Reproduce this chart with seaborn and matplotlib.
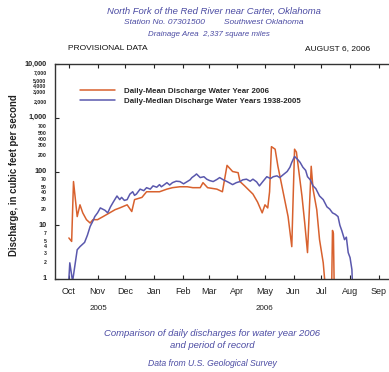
import numpy as np
import pandas as pd
import matplotlib
matplotlib.use("Agg")
import matplotlib.pyplot as plt
import matplotlib.dates as mdates
from matplotlib.ticker import FixedLocator, NullLocator
import seaborn as sns

# days since Oct 1 2005, discharge in cfs (values below 1 run off the axis)
mean_days = [0, 3, 5, 9, 12, 15, 19, 23, 26, 31, 37, 44, 50, 55, 63, 68, 71, 79, 84, 91,
             98, 106, 112, 120, 128, 134, 142, 145, 150, 160, 166, 171, 177, 183, 185, 190,
             199, 204, 209, 212, 215, 217, 219, 223, 226, 231, 237, 241, 242, 244, 246, 252,
             255, 258, 262, 264, 268, 271, 275, 278, 284, 285, 286, 287]
mean_cfs = [5.8, 5.0, 65, 14.5, 24, 17, 12.7, 11, 12.7, 12.7, 14.5, 17, 19.5, 21, 24, 18, 30,
            33, 42, 42, 42, 47, 50, 52, 52, 50, 50, 62, 50, 47, 42, 130, 100, 95, 65, 54,
            38, 27, 17, 24, 21, 42, 290, 260, 125, 47, 14.5, 4, 17, 260, 230, 35,
            11, 3.1, 125, 47, 19.5, 5.4, 2, 0.5, 0.5, 8, 7, 0.5]

median_days = [0, 1, 4, 9, 12, 17, 20, 23, 26, 28, 31, 34, 39, 42, 45, 48, 52, 55, 57, 60,
               63, 66, 69, 71, 73, 77, 81, 84, 88, 91, 95, 98, 100, 102, 106, 109, 112, 116,
               120, 124, 128, 131, 133, 136, 138, 142, 146, 149, 152, 156, 160, 163, 167,
               171, 174, 177, 181, 185, 188, 192, 196, 199, 203, 206, 210, 214, 218, 221,
               225, 228, 232, 236, 239, 241, 244, 247, 250, 253, 256, 258, 261, 264, 267,
               271, 275, 279, 282, 285, 288, 291, 293, 295, 298, 300, 302, 304, 306, 307]
median_cfs = [1.0, 2.0, 0.9, 3.5, 4.0, 4.8, 6.5, 9.5, 12, 14.5, 17, 21, 19, 17, 22, 27, 35,
              30, 33, 29, 30, 38, 42, 36, 38, 47, 44, 50, 47, 54, 51, 57, 52, 55, 62, 56,
              62, 66, 65, 59, 65, 70, 77, 84, 90, 77, 80, 72, 68, 65, 71, 77, 70,
              65, 61, 57, 62, 65, 70, 72, 66, 72, 64, 54, 66, 80, 74, 80, 83, 77, 88, 100,
              120, 148, 190, 170, 148, 120, 105, 80, 70, 54, 48, 35, 30, 22, 20, 17, 16,
              14.5, 10, 8, 5.4, 6, 3.1, 2.5, 1.5, 0.5]

series_names = ["Daily-Mean Discharge Water Year 2006",
                "Daily-Median Discharge Water Years 1938-2005"]

y_major = [1, 10, 100, 1000, 10000]
y_labels = {1: "1", 2: "2", 3: "3", 4: "4", 5: "5", 7: "7",
            10: "10", 20: "20", 30: "30", 40: "40", 50: "50", 70: "70",
            100: "100", 200: "200", 300: "300", 400: "400", 500: "500", 700: "700",
            1000: "1,000", 2000: "2,000", 3000: "3,000", 4000: "4,000", 5000: "5,000",
            7000: "7,000", 10000: "10,000"}

start = pd.Timestamp("2005-10-01")
df = pd.concat([
    pd.DataFrame({"date": start + pd.to_timedelta(mean_days, unit="D"),
                  "cfs": mean_cfs, "series": series_names[0]}),
    pd.DataFrame({"date": start + pd.to_timedelta(median_days, unit="D"),
                  "cfs": median_cfs, "series": series_names[1]}),
])

sns.set_style("white")
plt.rcParams["font.family"] = ["Liberation Sans", "DejaVu Sans"]

orange = "#d8612e"
blue = "#5a58ad"
title_blue = "#4b4ba3"

fig = plt.figure(figsize=(3.89, 3.72), dpi=100)
ax = fig.add_axes([55 / 389, 1 - 279 / 372, 337.6 / 389, 215 / 372])

sns.lineplot(data=df, x="date", y="cfs", hue="series", palette=[orange, blue],
             estimator=None, sort=False, lw=1.1, ax=ax)

ax.set_yscale("log")
ax.set_ylim(1, 10000)
ax.set_xlim(pd.Timestamp("2005-09-16"), pd.Timestamp("2006-09-16"))

ax.yaxis.set_major_locator(FixedLocator(y_major))
ax.yaxis.set_minor_locator(NullLocator())
ax.set_yticklabels([])
for v, lab in y_labels.items():
    big = v in y_major
    ax.text(-0.025, v, lab, transform=ax.get_yaxis_transform(), ha="right", va="center",
            fontsize=5.2 if big else 3.7, fontweight="bold", color="#222222")

ax.xaxis.set_major_locator(mdates.MonthLocator())
ax.xaxis.set_major_formatter(mdates.DateFormatter("%b"))
ax.tick_params(axis="x", direction="in", length=3, width=0.8, top=True, bottom=True,
               labelsize=6.5, pad=6, colors="#222222")
ax.tick_params(axis="y", direction="in", length=3, width=0.8, left=True, right=False)
for s in ["left", "bottom", "top"]:
    ax.spines[s].set_color("#333333")
    ax.spines[s].set_linewidth(1.0)
ax.spines["right"].set_visible(False)
ax.set_xlabel("")
ax.set_ylabel("")

handles, labels = ax.get_legend_handles_labels()
ax.legend(handles, labels, loc="upper left", bbox_to_anchor=(0.074, 0.89),
          frameon=False, borderaxespad=0, borderpad=0, handlelength=4.4,
          handletextpad=1.2, labelspacing=0.25,
          prop={"size": 5.7, "weight": "bold"})

fig.text(14 / 389, 1 - 175 / 372, "Discharge, in cubic feet per second", rotation=90,
         ha="center", va="center", fontsize=6.9, fontweight="bold", color="#222222")

fig.text(98 / 389, 1 - 309 / 372, "2005", ha="center", va="center", fontsize=5.8,
         color="#222222")
fig.text(264 / 389, 1 - 309 / 372, "2006", ha="center", va="center", fontsize=5.8,
         color="#222222")

tkw = dict(ha="center", va="center", fontsize=6.8, style="italic", color=title_blue)
fig.text(214 / 389, 1 - 11 / 372, "North Fork of the Red River near Carter, Oklahoma", **tkw)
fig.text(214 / 389, 1 - 23 / 372,
         "Station No. 07301500        Southwest Oklahoma", **dict(tkw, fontsize=6.0))
fig.text(209 / 389, 1 - 35 / 372, "Drainage Area  2,337 square miles", **dict(tkw, fontsize=5.7))

fig.text(68 / 389, 1 - 49 / 372, "PROVISIONAL DATA", ha="left", va="center",
         fontsize=6, color="#111111")
fig.text(370 / 389, 1 - 49 / 372, "AUGUST 6, 2006", ha="right", va="center",
         fontsize=6, color="#111111")

fig.text(212 / 389, 1 - 334 / 372, "Comparison of daily discharges for water year 2006", **tkw)
fig.text(212 / 389, 1 - 346 / 372, "and period of record", **tkw)
fig.text(212 / 389, 1 - 363 / 372, "Data from U.S. Geological Survey", **dict(tkw, fontsize=6.2))

fig.savefig("out.png", dpi=100, facecolor="white")
